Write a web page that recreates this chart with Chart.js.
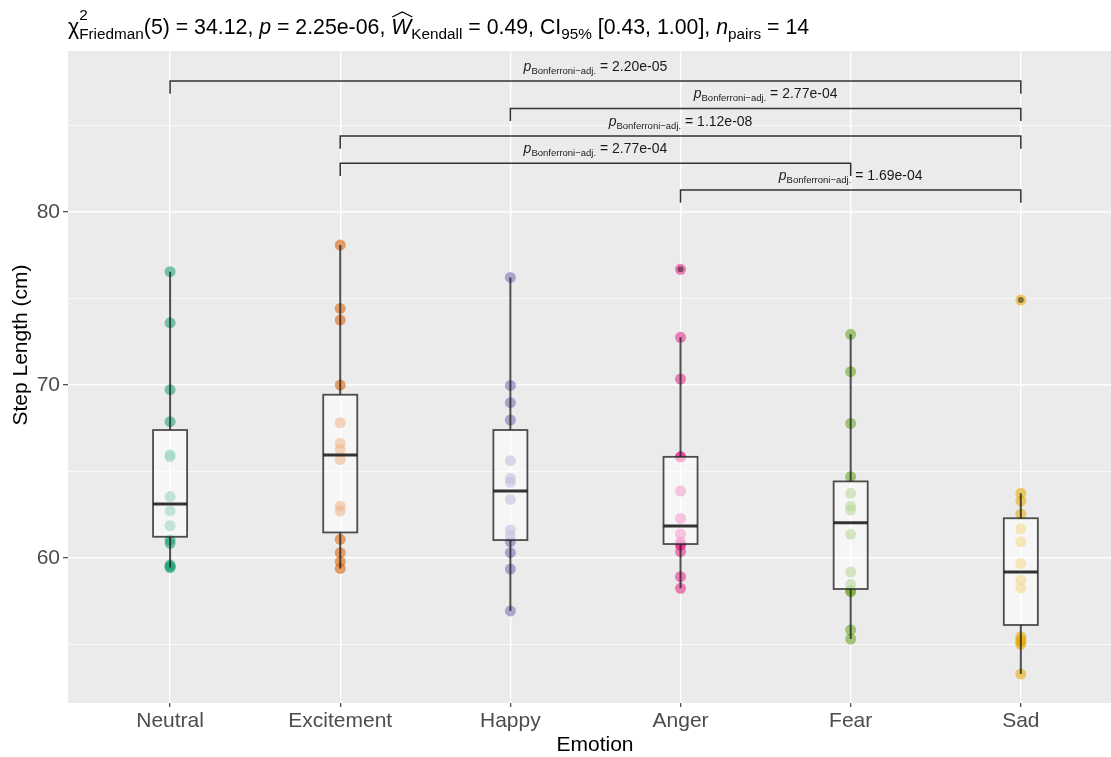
<!DOCTYPE html>
<html>
<head>
<meta charset="utf-8">
<script src="https://cdn.jsdelivr.net/npm/chart.js@4.4.0/dist/chart.umd.min.js"></script>
<style>
  html, body { margin: 0; padding: 0; background: #ffffff; }
  #wrap { width: 1111px; height: 757px; }
</style>
</head>
<body>
<div id="wrap"><canvas id="chart" width="1111" height="757"></canvas></div>
<script>
// categories
const emotions = ['Neutral', 'Excitement', 'Happy', 'Anger', 'Fear', 'Sad'];

// step length per subject (cm)
const neutral    = [76.55, 73.60, 69.73, 67.88, 65.97, 65.85, 63.55, 62.72, 61.87, 61.04, 60.85, 59.60, 59.50, 59.45];
const excitement = [78.09, 74.43, 73.76, 70.00, 67.82, 66.63, 66.28, 65.70, 63.00, 62.72, 61.08, 60.31, 59.79, 59.40];
const happy      = [76.22, 69.98, 68.98, 67.98, 65.63, 64.61, 64.38, 63.39, 61.62, 61.27, 60.94, 60.31, 59.36, 56.94];
const anger      = [76.69, 72.76, 70.35, 65.85, 65.85, 63.87, 62.29, 61.39, 60.94, 60.75, 60.75, 60.37, 58.92, 58.25];
const fear       = [72.93, 70.77, 67.78, 64.70, 63.74, 63.00, 62.77, 61.37, 59.19, 58.48, 58.15, 58.05, 55.84, 55.32];
const sad        = [74.91, 63.74, 63.29, 62.54, 61.69, 60.94, 59.69, 58.73, 58.28, 55.45, 55.26, 55.15, 55.01, 53.29];
const stepLength = [neutral, excitement, happy, anger, fear, sad];

// box plot summaries
const boxQ1      = [61.23, 61.48, 61.04, 60.81, 58.21, 56.13];
const boxMedian  = [63.12, 65.95, 63.87, 61.85, 62.04, 59.19];
const boxQ3      = [67.40, 69.44, 67.40, 65.85, 64.43, 62.30];
const whiskerLow = [59.45, 59.40, 56.94, 58.25, 55.32, 53.29];
const whiskerHigh= [76.55, 78.09, 76.22, 72.76, 72.93, 63.74];
const outliers   = [[], [], [], [76.69], [], [74.91]];

// pairwise comparisons
const pairFrom = [0, 2, 1, 1, 3];
const pairTo   = [5, 5, 5, 4, 5];
const pairY    = [87.57, 85.99, 84.39, 82.82, 81.27];
const pairP    = ['2.20e-05', '2.77e-04', '1.12e-08', '2.77e-04', '1.69e-04'];

const yTicks = [55, 60, 65, 70, 75, 80, 85];

const palette = ['27,158,119', '217,95,2', '117,112,179', '231,41,138', '102,166,30', '230,171,2'];
const FONT = "'Liberation Sans', Arial, sans-serif";

// draw a run of text pieces (normal / italic / sub / sup) from x on a baseline
function richWidth(ctx, parts) {
    let w = 0;
    parts.forEach(p => {
        ctx.font = (p.italic ? 'italic ' : '') + p.size + 'px ' + FONT;
        p.w = ctx.measureText(p.t).width;
        if (p.stack) {
            ctx.font = p.stack.size + 'px ' + FONT;
            p.w = Math.max(p.w, ctx.measureText(p.stack.t).width);
        }
        w += p.w;
    });
    return w;
}
function drawRich(ctx, parts, x, y) {
    parts.forEach(p => {
        ctx.font = (p.italic ? 'italic ' : '') + p.size + 'px ' + FONT;
        ctx.fillText(p.t, x, y + (p.dy || 0));
        if (p.stack) {
            ctx.font = p.stack.size + 'px ' + FONT;
            ctx.fillText(p.stack.t, x, y + p.stack.dy);
        }
        if (p.hat) {
            ctx.save();
            ctx.strokeStyle = ctx.fillStyle;
            ctx.lineWidth = 1.2;
            ctx.beginPath();
            ctx.moveTo(x + 1, y - 17);
            ctx.lineTo(x + p.w / 2 + 1, y - 22);
            ctx.lineTo(x + p.w + 1, y - 17);
            ctx.stroke();
            ctx.restore();
        }
        x += p.w;
    });
}

const panelBackground = {
    id: 'panelBackground',
    beforeDraw(chart) {
        const { ctx, chartArea: a } = chart;
        ctx.save();
        ctx.fillStyle = '#EBEBEB';
        ctx.fillRect(a.left, a.top, a.right - a.left, a.bottom - a.top);
        ctx.restore();
    }
};

const boxes = {
    id: 'boxes',
    afterDatasetsDraw(chart) {
        const { ctx, scales: { x, y } } = chart;
        ctx.save();
        emotions.forEach((e, i) => {
            const cx = x.getPixelForValue(i);
            const half = x.getPixelForValue(i + 0.1) - cx;
            // whiskers
            ctx.strokeStyle = 'rgba(35,35,35,0.8)';
            ctx.lineWidth = 2;
            ctx.beginPath();
            ctx.moveTo(cx, y.getPixelForValue(whiskerHigh[i]));
            ctx.lineTo(cx, y.getPixelForValue(boxQ3[i]));
            ctx.moveTo(cx, y.getPixelForValue(boxQ1[i]));
            ctx.lineTo(cx, y.getPixelForValue(whiskerLow[i]));
            ctx.stroke();
            // box
            const top = y.getPixelForValue(boxQ3[i]);
            const bot = y.getPixelForValue(boxQ1[i]);
            ctx.fillStyle = 'rgba(255,255,255,0.55)';
            ctx.fillRect(cx - half, top, half * 2, bot - top);
            ctx.strokeStyle = 'rgba(35,35,35,0.8)';
            ctx.lineWidth = 1.8;
            ctx.strokeRect(cx - half, top, half * 2, bot - top);
            // median
            const my = y.getPixelForValue(boxMedian[i]);
            ctx.strokeStyle = 'rgba(30,30,30,0.9)';
            ctx.lineWidth = 3;
            ctx.beginPath();
            ctx.moveTo(cx - half, my);
            ctx.lineTo(cx + half, my);
            ctx.stroke();
            // outliers
            ctx.fillStyle = 'rgba(0,0,0,0.45)';
            outliers[i].forEach(v => {
                ctx.beginPath();
                ctx.arc(cx, y.getPixelForValue(v), 3, 0, Math.PI * 2);
                ctx.fill();
            });
        });
        ctx.restore();
    }
};

const annotations = {
    id: 'annotations',
    afterDraw(chart) {
        const { ctx, scales: { x, y } } = chart;
        ctx.save();
        // comparison brackets
        ctx.strokeStyle = '#333333';
        ctx.lineWidth = 1.5;
        ctx.fillStyle = '#1a1a1a';
        ctx.textBaseline = 'alphabetic';
        pairFrom.forEach((f, k) => {
            const x1 = x.getPixelForValue(f);
            const x2 = x.getPixelForValue(pairTo[k]);
            const yy = y.getPixelForValue(pairY[k]);
            const yd = y.getPixelForValue(pairY[k] - 0.73);
            ctx.beginPath();
            ctx.moveTo(x1, yd);
            ctx.lineTo(x1, yy);
            ctx.lineTo(x2, yy);
            ctx.lineTo(x2, yd);
            ctx.stroke();
            const parts = [
                { t: 'p', size: 14, italic: true },
                { t: 'Bonferroni\u2212adj.', size: 9.5, dy: 3 },
                { t: ' = ' + pairP[k], size: 14 }
            ];
            const w = richWidth(ctx, parts);
            drawRich(ctx, parts, (x1 + x2) / 2 - w / 2, yy - 10);
        });
        // subtitle line with test statistics
        ctx.fillStyle = '#000000';
        const title = [
            { t: '\u03c7', size: 21.3 },
            { t: 'Friedman', size: 15.3, dy: 5, stack: { t: '2', size: 15.3, dy: -14 } },
            { t: '(5) = 34.12, ', size: 21.3 },
            { t: 'p', size: 21.3, italic: true },
            { t: ' = 2.25e-06, ', size: 21.3 },
            { t: 'W', size: 21.3, italic: true, hat: true },
            { t: 'Kendall', size: 15.3, dy: 5 },
            { t: ' = 0.49, CI', size: 21.3 },
            { t: '95%', size: 15.3, dy: 5 },
            { t: ' [0.43, 1.00], ', size: 21.3 },
            { t: 'n', size: 21.3, italic: true },
            { t: 'pairs', size: 15.3, dy: 5 },
            { t: ' = 14', size: 21.3 }
        ];
        richWidth(ctx, title);
        drawRich(ctx, title, 68, 34);

        // axis titles
        ctx.font = '21px ' + FONT;
        ctx.fillStyle = '#000000';
        ctx.textAlign = 'center';
        ctx.textBaseline = 'middle';
        ctx.fillText('Emotion', 595, 745);
        ctx.translate(21, 345);
        ctx.rotate(-Math.PI / 2);
        ctx.fillText('Step Length (cm)', 0, 0);
        ctx.restore();
    }
};

const datasets = stepLength.map((vals, i) => ({
    label: emotions[i],
    data: vals.map(v => ({ x: i, y: v })),
    backgroundColor: 'rgba(' + palette[i] + ',0.58)',
    borderWidth: 0,
    pointRadius: 5.5,
    pointHoverRadius: 5.5
}));

Chart.defaults.font.family = FONT;

new Chart(document.getElementById('chart').getContext('2d'), {
    type: 'scatter',
    data: { datasets: datasets },
    options: {
        responsive: false,
        animation: false,
        layout: { autoPadding: false, padding: { top: 51, right: 0, left: 0, bottom: 0 } },
        plugins: {
            legend: { display: false },
            tooltip: { enabled: false }
        },
        scales: {
            x: {
                type: 'linear',
                min: -0.6,
                max: 5.53,
                afterBuildTicks: s => { s.ticks = emotions.map((e, i) => ({ value: i })); },
                afterFit: s => { s.height = 54; s.paddingLeft = 0; s.paddingRight = 0; },
                ticks: {
                    callback: v => emotions[v],
                    font: { size: 21 },
                    color: '#4D4D4D',
                    padding: 2,
                    autoSkip: false,
                    maxRotation: 0
                },
                grid: { color: '#FFFFFF', lineWidth: 1.4, tickLength: 4, tickColor: '#333333', tickWidth: 1.1 },
                border: { display: false }
            },
            y: {
                min: 51.62,
                max: 89.31,
                afterBuildTicks: s => { s.ticks = yTicks.map(v => ({ value: v })); },
                afterFit: s => { s.width = 68; s.paddingTop = 0; s.paddingBottom = 0; },
                ticks: {
                    callback: v => (v % 10 === 0 ? v : ''),
                    font: { size: 21 },
                    color: '#4D4D4D',
                    padding: 3,
                    autoSkip: false
                },
                grid: {
                    color: '#FFFFFF',
                    lineWidth: c => (c.tick && c.tick.value % 10 === 0 ? 1.4 : 0.7),
                    tickLength: 5,
                    tickColor: c => (c.tick && c.tick.value % 10 === 0 ? '#333333' : 'rgba(0,0,0,0)'),
                    tickWidth: 1.1
                },
                border: { display: false }
            }
        }
    },
    plugins: [panelBackground, boxes, annotations]
});
</script>
</body>
</html>
